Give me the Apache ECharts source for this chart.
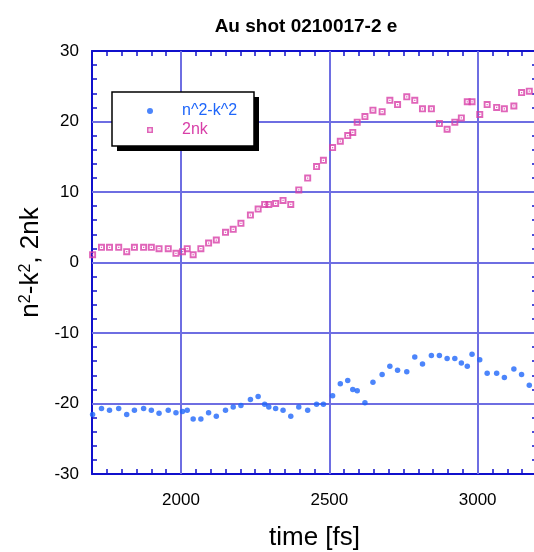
<!DOCTYPE html>
<html>
<head>
<meta charset="utf-8">
<script src="https://cdn.jsdelivr.net/npm/echarts@6/dist/echarts.min.js"></script>
<style>
  html, body { margin: 0; padding: 0; background: #fff; }
  #chart { width: 534px; height: 552px; }
</style>
</head>
<body>
<div id="chart"></div>
<script>
// Sample times (fs)
const timeFs = [1702, 1732, 1759, 1790, 1817, 1843, 1874, 1900, 1926, 1957,
  1983, 2005, 2021, 2041, 2067, 2093, 2119, 2150, 2176, 2202,
  2234, 2260, 2282, 2296, 2319, 2344, 2370, 2397, 2427, 2457,
  2480, 2511, 2537, 2562, 2579, 2594, 2620, 2647, 2678, 2704,
  2730, 2761, 2788, 2814, 2844, 2871, 2897, 2923, 2945, 2965,
  2981, 3007, 3032, 3064, 3090, 3122, 3148, 3174];

// Real part of the dielectric function, n^2 - k^2
const n2k2 = [-21.57, -20.7, -20.95, -20.7, -21.57, -20.95, -20.7, -20.95, -21.4, -20.95,
  -21.3, -21.15, -20.95, -22.2, -22.2, -21.3, -21.8, -20.95, -20.5, -20.3,
  -19.45, -19.0, -20.1, -20.5, -20.7, -20.95, -21.8, -20.5, -20.95, -20.1,
  -20.1, -18.9, -17.2, -16.75, -18.0, -18.2, -19.9, -17.0, -15.9, -14.7,
  -15.3, -15.5, -13.4, -14.4, -13.2, -13.2, -13.6, -13.6, -14.25, -14.7,
  -13.0, -13.8, -15.7, -15.7, -16.3, -15.1, -15.9, -17.4];

// Imaginary part, 2nk
const twoNK = [1.1, 2.15, 2.15, 2.15, 1.53, 2.15, 2.15, 2.15, 1.96, 1.96,
  1.3, 1.53, 1.96, 1.1, 1.96, 2.76, 3.19, 4.28, 4.7, 5.55,
  6.73, 7.58, 8.24, 8.24, 8.38, 8.8, 8.24, 10.3, 11.98, 13.6,
  14.5, 16.3, 17.2, 18.0, 18.45, 19.9, 20.7, 21.6, 21.4, 23.0,
  22.4, 23.5, 23.0, 21.8, 21.8, 19.7, 18.9, 19.9, 20.5, 22.8,
  22.8, 21.0, 22.4, 22.0, 21.8, 22.2, 24.1, 24.3];

const seriesNames = ['n^2-k^2', '2nk'];
const xTickLabels = [2000, 2500, 3000];
const yTickLabels = [-30, -20, -10, 0, 10, 20, 30];
const xGridValues = [2000, 2500, 3000];
const yGridValues = [-20, -10, 0, 10, 20];

const BLUE = '#1f66fa';
const PINK = '#d83fa8';
const AXIS = '#1010cc';
const GRID = '#6e6ee2';
const FONT = '"Liberation Sans", Arial, Helvetica, sans-serif';

// hollow square with a centre dot
const squareDot = 'path://M0,0H10V10H0Z M2.7,2.7V7.3H7.3V2.7Z M4.1,4.1H5.9V5.9H4.1Z';

const pairs = (ys) => timeFs.map((t, i) => [t, ys[i]]);

const baseTick = { show: true, inside: true, length: 5, lineStyle: { color: AXIS, width: 1.5 } };
const baseLine = { show: true, onZero: false, lineStyle: { color: AXIS, width: 2 } };

const chart = echarts.init(document.getElementById('chart'), null, { renderer: 'canvas' });

chart.setOption({
  animation: false,
  backgroundColor: '#fff',
  title: {
    text: 'Au shot 0210017-2 e',
    left: 301,
    top: 12,
    textAlign: 'center',
    textStyle: { fontFamily: FONT, fontSize: 19, fontWeight: 'bold', color: '#000' }
  },
  // the plot runs a little past the right edge of the page
  grid: { left: 92, width: 445, top: 51, height: 423, containLabel: false, outerBoundsMode: 'none' },
  legend: {
    orient: 'vertical',
    left: 147,
    top: 103,
    padding: 0,
    itemWidth: 6,
    itemHeight: 6,
    itemGap: 3,
    z: 20,
    data: [
      { name: seriesNames[0], icon: 'circle', textStyle: { color: BLUE } },
      { name: seriesNames[1], icon: squareDot, textStyle: { color: PINK } }
    ],
    textStyle: { fontFamily: FONT, fontSize: 16, lineHeight: 16, padding: [0, 0, 0, 24] }
  },
  graphic: [
    { type: 'rect', z: 10, shape: { x: 117, y: 97, width: 142, height: 54 }, style: { fill: '#000' } },
    { type: 'rect', z: 11, shape: { x: 112, y: 92, width: 142, height: 54 }, style: { fill: '#fff', stroke: '#000', lineWidth: 1.5 } }
  ],
  xAxis: [
    {
      type: 'value', position: 'bottom', min: 1700, max: 3200, interval: 50,
      axisLine: baseLine, axisTick: baseTick, splitLine: { show: false },
      axisLabel: {
        margin: 18, color: '#000', fontFamily: FONT, fontSize: 17,
        formatter: (v) => xTickLabels.includes(Math.round(v)) ? String(Math.round(v)) : ''
      },
      name: 'time [fs]', nameLocation: 'middle', nameGap: 51,
      nameTextStyle: { fontFamily: FONT, fontSize: 26, color: '#000' }
    },
    {
      type: 'value', position: 'top', min: 1700, max: 3200, interval: 50,
      axisLine: baseLine, axisTick: baseTick, splitLine: { show: false },
      axisLabel: { show: false }
    }
  ],
  yAxis: [
    {
      type: 'value', position: 'left', min: -30, max: 30, interval: 2,
      axisLine: baseLine, axisTick: baseTick, splitLine: { show: false },
      axisLabel: {
        margin: 13, color: '#000', fontFamily: FONT, fontSize: 17,
        formatter: (v) => yTickLabels.includes(Math.round(v)) ? String(Math.round(v)) : ''
      },
      name: '{b|n}{s|2}{b|-k}{s|2}{b|, 2nk}',
      nameLocation: 'middle', nameRotate: 90, nameGap: 47,
      nameTextStyle: {
        fontFamily: FONT, color: '#000',
        rich: {
          b: { fontFamily: FONT, fontSize: 26, color: '#000', verticalAlign: 'bottom' },
          s: { fontFamily: FONT, fontSize: 16, color: '#000', verticalAlign: 'top' }
        }
      }
    },
    {
      type: 'value', position: 'right', min: -30, max: 30, interval: 2,
      axisLine: baseLine, axisTick: baseTick, splitLine: { show: false },
      axisLabel: { show: false }
    }
  ],
  series: [
    {
      name: seriesNames[0], type: 'scatter', xAxisIndex: 0, yAxisIndex: 0,
      symbol: 'circle', symbolSize: 5.5,
      itemStyle: { color: BLUE },
      data: pairs(n2k2),
      z: 3,
      markLine: {
        silent: true, z: 1, symbol: 'none', label: { show: false },
        lineStyle: { color: GRID, width: 2, type: 'solid' },
        emphasis: { disabled: true },
        data: xGridValues.map((v) => ({ xAxis: v })).concat(yGridValues.map((v) => ({ yAxis: v })))
      }
    },
    {
      name: seriesNames[1], type: 'scatter', xAxisIndex: 0, yAxisIndex: 0,
      symbol: squareDot, symbolSize: 7,
      itemStyle: { color: PINK },
      data: pairs(twoNK),
      z: 3
    }
  ]
});
</script>
</body>
</html>
